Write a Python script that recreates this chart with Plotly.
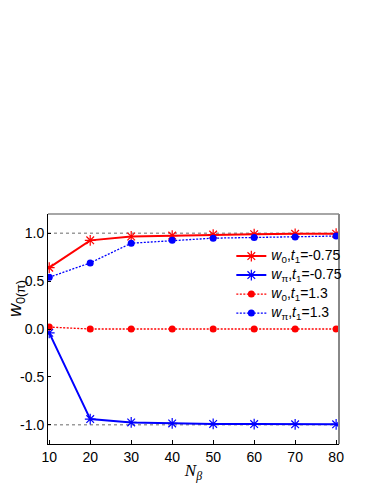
import plotly.graph_objects as go

n_beta = [10, 20, 30, 40, 50, 60, 70, 80]
w0_t075 = [0.64, 0.925, 0.965, 0.975, 0.985, 0.99, 0.993, 0.995]
wpi_t075 = [-0.04, -0.94, -0.975, -0.985, -0.99, -0.992, -0.995, -0.995]
w0_t13 = [0.02, 0.0, 0.0, 0.0, 0.0, 0.0, 0.0, 0.0]
wpi_t13 = [0.54, 0.69, 0.895, 0.925, 0.948, 0.955, 0.96, 0.97]
x_ticks = [10, 20, 30, 40, 50, 60, 70, 80]
y_ticks = [-1.0, -0.5, 0.0, 0.5, 1.0]

RED = "#FF0000"
BLUE = "#0000FF"

def lg(s):
    return '<span style="font-size:14px">' + s + '</span>'

fig = go.Figure()

# reference dotted lines at +/-1
for yv in [1.0, -1.0]:
    fig.add_shape(type="line", xref="paper", x0=0, x1=1, yref="y", y0=yv, y1=yv,
                  line=dict(color="#444444", width=0.8, dash="dot"), layer="below")

fig.add_trace(go.Scatter(x=n_beta, y=w0_t075, mode="lines+markers",
    name=lg("<i>w</i><sub>0</sub>,<i>t</i><sub>1</sub>=-0.75"),
    line=dict(color=RED, width=2),
    marker=dict(symbol="asterisk-open", size=9, color=RED, line=dict(color=RED, width=1.2))))
fig.add_trace(go.Scatter(x=n_beta, y=wpi_t075, mode="lines+markers",
    name=lg("<i>w</i><sub>π</sub>,<i>t</i><sub>1</sub>=-0.75"),
    line=dict(color=BLUE, width=2),
    marker=dict(symbol="asterisk-open", size=9, color=BLUE, line=dict(color=BLUE, width=1.2))))
fig.add_trace(go.Scatter(x=n_beta, y=w0_t13, mode="lines+markers",
    name=lg("<i>w</i><sub>0</sub>,<i>t</i><sub>1</sub>=1.3"),
    line=dict(color=RED, width=1.3, dash="2px,1.5px"),
    marker=dict(symbol="circle", size=7, color=RED)))
fig.add_trace(go.Scatter(x=n_beta, y=wpi_t13, mode="lines+markers",
    name=lg("<i>w</i><sub>π</sub>,<i>t</i><sub>1</sub>=1.3"),
    line=dict(color=BLUE, width=1.3, dash="2px,1.5px"),
    marker=dict(symbol="circle", size=7, color=BLUE)))

# gray top/right frame
fig.add_shape(type="line", xref="paper", yref="paper", x0=0, x1=1, y0=1, y1=1,
              line=dict(color="#888888", width=1.5))
fig.add_shape(type="line", xref="paper", yref="paper", x0=1, x1=1, y0=0, y1=1,
              line=dict(color="#888888", width=2))

# y-axis title as rotated annotation
fig.add_annotation(text="<i>w</i><sub>0(π)</sub>", xref="paper", yref="paper",
                   x=0, y=0.63, xshift=-32, xanchor="center", yanchor="middle",
                   textangle=-90, showarrow=False, font=dict(size=18))

fig.update_layout(
    width=366, height=476,
    margin=dict(l=40, r=35, t=206, b=40, autoexpand=False),
    paper_bgcolor="white", plot_bgcolor="white",
    font=dict(family="Liberation Sans, Arial", size=14, color="black"),
    showlegend=True,
    legend=dict(x=0.63, y=0.88, xanchor="left", yanchor="top",
                bgcolor="rgba(0,0,0,0)", font=dict(size=11),
                tracegroupgap=0, itemwidth=30),
)
fig.update_xaxes(range=[9.7, 80.7], tickvals=x_ticks, ticktext=[str(v) for v in x_ticks],
                 showgrid=False, zeroline=False, showline=True, linecolor="black", linewidth=1,
                 ticks="inside", ticklen=4, tickcolor="black", automargin=False,
                 title=dict(text="<i>N</i><sub><i>β</i></sub>",
                            font=dict(family="Liberation Serif, Times New Roman", size=17),
                            standoff=0))
fig.update_yaxes(range=[-1.2, 1.2], tickvals=y_ticks, ticktext=["-1.0", "-0.5", "0.0", "0.5", "1.0"],
                 showgrid=False, zeroline=False, showline=True, linecolor="black", linewidth=1,
                 ticks="inside", ticklen=3, tickcolor="black", automargin=False)

fig.write_html("out.html")
